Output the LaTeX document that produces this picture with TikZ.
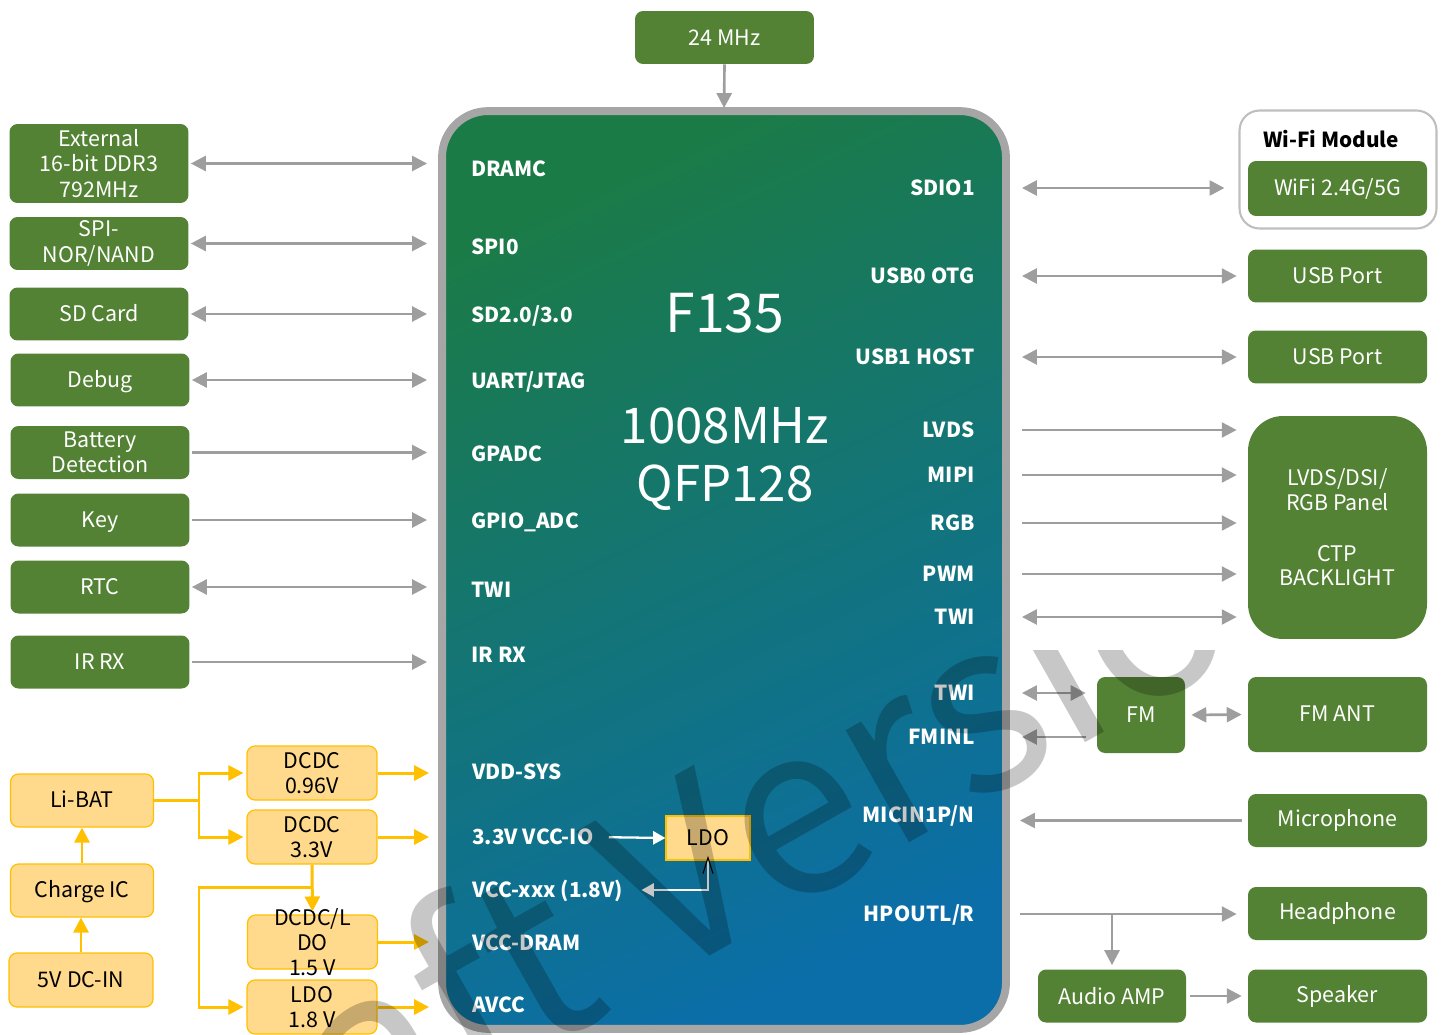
\documentclass[tikz,border=0pt]{standalone}
\usepackage{fontspec}
\setmainfont{Noto Sans CJK SC}
\usepackage{tikz}
\usetikzlibrary{calc}
\usetikzlibrary{arrows.meta}
\usetikzlibrary{shapes}
\usetikzlibrary{positioning}

\definecolor{boxgreen}{HTML}{548235}
\definecolor{linegray}{HTML}{9E9E9E}
\definecolor{chipedge}{HTML}{A6A6A6}
\definecolor{chiptop}{HTML}{1B7B47}
\definecolor{chipbot}{HTML}{0B6EA8}
\definecolor{pwrfill}{HTML}{FFD98C}
\definecolor{pwredge}{HTML}{FFC000}
\definecolor{modedge}{HTML}{BFBFBF}

\tikzset{
  gbox/.style={rectangle, rounded corners=0.16cm, fill=boxgreen, text=white, inner sep=0pt,
    align=center, minimum width=3.58cm, minimum height=1.06cm, font=\fontsize{12.2}{14.4}\selectfont},
  pbox/.style={rectangle, rounded corners=0.16cm, fill=pwrfill, draw=pwredge, line width=0.7pt,
    text=black, inner sep=0pt, align=center, minimum width=2.6cm, minimum height=1.08cm,
    font=\fontsize{12.2}{14.4}\selectfont},
  one/.style={text height=8.1pt, text depth=0pt},
  pin/.style={text=white, inner sep=0pt, one, font=\fontsize{11.8}{14}\selectfont\bfseries},
  lpin/.style={pin, anchor=west},
  rpin/.style={pin, anchor=east},
  chip/.style={rectangle, rounded corners=0.92cm, draw=chipedge, line width=4.5pt,
    top color=chiptop, bottom color=chipbot, shading angle=25,
    minimum width=11.28cm, minimum height=18.36cm, inner sep=0pt, outer sep=0pt},
  bus/.style={draw=linegray, line width=1.5pt},
  lbus/.style={bus, shorten <=0.04cm, shorten >=0.3cm},
  rbus/.style={bus, shorten <=0.32cm, shorten >=0.22cm},
  yel/.style={draw=pwredge, line width=1.7pt},
  ytip/.style={yel, -{Triangle[length=8.5pt,width=8.5pt]}},
  wtip/.style={draw=white, line width=1.3pt, -{Triangle[length=7pt,width=7.5pt]}}
}

\begin{document}
\begin{tikzpicture}[x=0.02cm, y=-0.02cm, >={Triangle[length=8.5pt,width=8.5pt]}]
\useasboundingbox (0,0) rectangle (1446,1034);

\node[chip] (soc) at (724,570) {};
\node[gbox] (osc) at (724.5,37.5) {24 MHz};
\draw[bus, ->, shorten >=0.06cm] (osc.south) -- (soc.north);

\node[text=white, font=\fontsize{30.5}{33}\selectfont] (name) at (725,313) {F135};
\node[text=white, align=center, font=\fontsize{28}{33}\selectfont] (spec) at (725,459) {1008MHz\\QFP128};

\node[lpin] (pdram) at (471,169) {DRAMC};
\node[lpin] (pspi) at (471,247) {SPI0};
\node[lpin] (psd) at (471,315) {SD2.0/3.0};
\node[lpin] (puart) at (471,381) {UART/JTAG};
\node[lpin] (pgpadc) at (471,454) {GPADC};
\node[lpin] (pgpio) at (471,521) {GPIO\_ADC};
\node[lpin] (ptwia) at (471,590) {TWI};
\node[lpin] (pirrx) at (471,655) {IR RX};
\node[lpin] (pvdd) at (472,772) {VDD-SYS};
\node[lpin] (pvccio) at (472,837) {3.3V VCC-IO};
\node[lpin] (pvccx) at (472,890) {VCC-xxx (1.8V)};
\node[lpin] (pvccdram) at (472,943) {VCC-DRAM};
\node[lpin] (pavcc) at (472,1005) {AVCC};

\node[rpin] (psdio) at (975,188) {SDIO1};
\node[rpin] (potg) at (975,276) {USB0 OTG};
\node[rpin] (phost) at (975,357) {USB1 HOST};
\node[rpin] (plvds) at (975,430) {LVDS};
\node[rpin] (pmipi) at (975,475) {MIPI};
\node[rpin] (prgb) at (975,523) {RGB};
\node[rpin] (ppwm) at (975,574) {PWM};
\node[rpin] (ptwib) at (975,617) {TWI};
\node[rpin] (ptwic) at (975,693) {TWI};
\node[rpin] (pfminl) at (975,737) {FMINL};
\node[rpin] (pmic) at (975,815) {MICIN1P/N};
\node[rpin] (phpout) at (975,914) {HPOUTL/R};

\node[rectangle, fill=pwrfill, draw=pwredge, line width=0.7pt, minimum width=1.68cm, minimum height=0.88cm,
  one, font=\fontsize{12.2}{14}\selectfont] (ldo) at (708,838) {LDO};
\draw[wtip, shorten <=0.3cm] (pvccio.east) -- (ldo.west);
\draw[wtip, shorten >=0.36cm] (ldo.south) |- (pvccx.east);
\draw[black, line width=0.6pt] ($(ldo.south)+(-5,13)$) -- ($(ldo.south)+(0,-3)$) -- ($(ldo.south)+(5,13)$);

\node[gbox, minimum height=1.58cm] (ddr) at (99,163.5) {External\\16-bit DDR3\\792MHz};
\node[gbox] (spinor) at (99,243.5) {SPI-\\NOR/NAND};
\node[gbox, one] (sdcard) at (99,314) {SD Card};
\node[gbox, one] (debug) at (100,380) {Debug};
\node[gbox] (batdet) at (100,452.5) {Battery\\Detection};
\node[gbox, one] (key) at (100,520) {Key};
\node[gbox, one] (rtc) at (100,587) {RTC};
\node[gbox, one] (irrx) at (100,662) {IR RX};

\draw[lbus, <->] (ddr.east) -- (ddr.east -| soc.west);
\draw[lbus, <->] (spinor.east) -- (spinor.east -| soc.west);
\draw[lbus, <->] (sdcard.east) -- (sdcard.east -| soc.west);
\draw[lbus, <->] (debug.east) -- (debug.east -| soc.west);
\draw[lbus, ->] (batdet.east) -- (batdet.east -| soc.west);
\draw[lbus, ->] (key.east) -- (key.east -| soc.west);
\draw[lbus, <->] (rtc.east) -- (rtc.east -| soc.west);
\draw[lbus, ->] (irrx.east) -- (irrx.east -| soc.west);

\node[rectangle, draw=modedge, line width=1.2pt, rounded corners=0.4cm, fill=white,
  minimum width=3.94cm, minimum height=2.36cm] (wifimod) at (1338,169.5) {};
\node[font=\fontsize{11.8}{14}\selectfont\bfseries] (wifititle) at (1331,139) {Wi-Fi Module};
\node[gbox, one, minimum height=1.1cm] (wifi) at (1337.5,188.5) {WiFi 2.4G/5G};
\node[gbox, one] (usb0) at (1337.5,276) {USB Port};
\node[gbox, one] (usb1) at (1337.5,357) {USB Port};
\node[gbox, minimum height=4.46cm, rounded corners=0.7cm, font=\fontsize{12.2}{14}\selectfont] (panel) at (1337.5,527.5)
  {LVDS/DSI/\\RGB Panel\\[15pt]CTP\\BACKLIGHT};
\node[gbox, one, minimum width=1.76cm, minimum height=1.52cm] (fm) at (1141,715) {FM};
\node[gbox, one, minimum height=1.5cm] (fmant) at (1337.5,714.5) {FM ANT};
\node[gbox] (mic) at (1337.5,820.5) {Microphone};
\node[gbox] (hp) at (1337.5,913.5) {Headphone};
\node[gbox, minimum width=2.96cm] (amp) at (1112,996) {Audio AMP};
\node[gbox] (spk) at (1337.5,996) {Speaker};

\draw[rbus, <->, shorten >=0.28cm] (psdio.east -| soc.east) -- (psdio.east -| wifimod.west);
\draw[rbus, <->] (potg.east -| soc.east) -- (potg.east -| usb0.west);
\draw[rbus, <->] (phost.east -| soc.east) -- (phost.east -| usb1.west);
\draw[rbus, ->] (plvds.east -| soc.east) -- (plvds.east -| panel.west);
\draw[rbus, ->] (pmipi.east -| soc.east) -- (pmipi.east -| panel.west);
\draw[rbus, ->] (prgb.east -| soc.east) -- (prgb.east -| panel.west);
\draw[rbus, ->] (ppwm.east -| soc.east) -- (ppwm.east -| panel.west);
\draw[rbus, <->] (ptwib.east -| soc.east) -- (ptwib.east -| panel.west);
\draw[rbus, <->] (ptwic.east -| soc.east) -- (ptwic.east -| fm.west);
\draw[rbus, <-] (pfminl.east -| soc.east) -- (pfminl.east -| fm.west);
\draw[bus, <->, shorten <=0.12cm, shorten >=0.12cm] (fm.east) -- (fmant.west);
\draw[bus, <-, shorten <=0.28cm, shorten >=0.12cm] (mic.west -| soc.east) -- (mic.west);
\draw[rbus, ->, shorten <=0.28cm] (phpout.east -| soc.east) -- (phpout.east -| hp.west);
\draw[bus, ->, shorten >=0.08cm] (amp.north |- phpout.east) -- (amp.north);
\draw[bus, ->, shorten <=0.08cm, shorten >=0.12cm] (amp.east) -- (spk.west);

\node[pbox, minimum width=2.86cm, minimum height=1.06cm, one] (libat) at (82,800.5) {Li-BAT};
\node[pbox, minimum width=2.86cm, minimum height=1.06cm, one] (charge) at (82,890.5) {Charge IC};
\node[pbox, minimum width=2.88cm, one] (dcin) at (81,980) {5V DC-IN};
\node[pbox] (dcdc1) at (312,773) {DCDC\\0.96V};
\node[pbox] (dcdc2) at (312,837) {DCDC\\3.3V};
\node[pbox] (dcdc3) at (312.5,942) {};
\node[align=center, inner sep=0pt, font=\fontsize{12.2}{14.4}\selectfont] (dcdc3txt) at (dcdc3) {DCDC/L\\DO\\1.5 V};
\node[pbox] (ldo18) at (312,1007) {LDO\\1.8 V};

\coordinate (bj) at (199,800.5);
\coordinate (lj) at (199,887);
\draw[ytip] (dcin.north) -- (dcin.north |- charge.south);
\draw[ytip] (charge.north) -- (libat.south);
\draw[yel] (libat.east) -- (bj);
\draw[ytip, shorten >=0.06cm] (bj) |- (dcdc1.west);
\draw[ytip, shorten >=0.06cm] (bj) |- (dcdc2.west);
\draw[ytip, shorten >=0.06cm] (dcdc2.south) -- (dcdc3.north);
\draw[ytip, shorten >=0.06cm] (dcdc2.south |- lj) -- (lj) |- (ldo18.west);
\draw[ytip, shorten >=0.26cm] (dcdc1.east) -- (dcdc1.east -| soc.west);
\draw[ytip, shorten >=0.26cm] (dcdc2.east) -- (dcdc2.east -| soc.west);
\draw[ytip, shorten >=0.26cm] (dcdc3.east) -- (dcdc3.east -| soc.west);
\draw[ytip, shorten >=0.26cm] (ldo18.east) -- (ldo18.east -| soc.west);

\begin{scope}
\clip (0,650) rectangle (1446,1034);
\node[rotate=29.5, anchor=base west, text=black, opacity=0.22, inner sep=0pt,
  font=\fontsize{135}{135}\selectfont] (draft) at (137,1280) {Draft Version};
\end{scope}
\end{tikzpicture}
\end{document}
